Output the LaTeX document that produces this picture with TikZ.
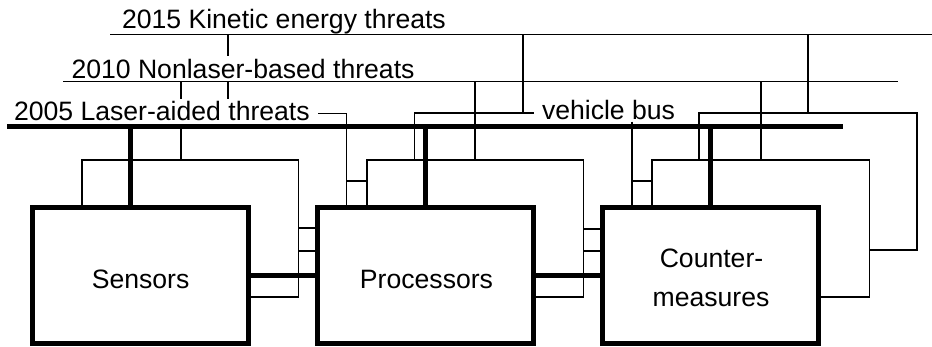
\documentclass[tikz,border=0pt]{standalone}
\usepackage{fontspec}
\setmainfont{Liberation Sans}
\begin{document}
\begin{tikzpicture}[x=1pt,y=-1pt,
  thinline/.style={line width=1.25pt},
  thickline/.style={line width=4.5pt},
  box/.style={draw, line width=4.6pt, minimum width=216pt, minimum height=136pt, inner sep=0pt, outer sep=0pt, fill=white},
  lbl/.style={inner sep=0pt, outer sep=0pt, font=\fontsize{26.6}{30}\selectfont}]
\useasboundingbox (0,0) rectangle (932,346);

% threat labels
\node[lbl, anchor=base west] (t15) at (122,28) {2015 Kinetic energy threats};
\node[lbl, anchor=base west] (t10) at (71.5,78.7) {2010 Nonlaser-based threats};
\node[lbl, anchor=base west] (t05) at (14,120.7) {2005 Laser-aided threats};
\node[lbl, anchor=base west] (vb) at (542,119.3) {vehicle bus};

% key coordinates
\coordinate (L15a) at (110,34.5);  \coordinate (L15b) at (932,34.5);
\coordinate (L10a) at (63,81.7);   \coordinate (L10b) at (898,81.7);
\coordinate (busL) at (7,126.3);   \coordinate (busR) at (843,126.3);

% year lines
\draw[thinline] (L15a) -- (L15b);
\draw[thinline] (L10a) -- (L10b);
\draw[thinline] (228,34.5) -- (228,56);
\draw[thinline] (228,81.7) -- (228,99.3);
\draw[thinline] (181,81.7) -- (181,99.3);
\draw[thinline] (181,126.3) -- (181,160);

% sensors frame
\draw[thinline] (82,207.5) -- (82,160) -- (298.3,160) -- (298.3,297) -- (248.5,297);
\draw[thinline] (298.3,228) -- (317.5,228);
\draw[thinline] (298.3,251) -- (317.5,251);

% 2005 leader to processors
\draw[thinline] (318,113.3) -- (346.7,113.3) -- (346.7,207.5);
\draw[thinline] (346.7,181) -- (367,181);

% processors frame
\draw[thinline] (367,207.5) -- (367,160) -- (583.3,160) -- (583.3,297) -- (533.5,297);
\draw[thinline] (583.3,229) -- (602.5,229);
\draw[thinline] (583.3,251) -- (602.5,251);
\draw[thinline] (475,81.7) -- (475,160);
\draw[thinline] (523,34.5) -- (523,113);
\draw[thinline] (414.3,160) -- (414.3,113) -- (534.3,113);

% countermeasures
\draw[thinline] (632,121.7) -- (632,207.5);
\draw[thinline] (632,181) -- (652,181);
\draw[thinline] (652,207.5) -- (652,160) -- (869.3,160) -- (869.3,297) -- (818.5,297);
\draw[thinline] (761,81.7) -- (761,160);
\draw[thinline] (808,34.5) -- (808,113);
\draw[thinline] (699,160) -- (699,113) -- (917,113) -- (917,250) -- (869.3,250);

% vehicle bus
\draw[thickline] (busL) -- (busR);

% boxes
\node[box] (sens) at (140.5,275.5) {};
\node[box] (proc) at (425.5,275.5) {};
\node[box] (cm) at (710.5,275.5) {};
\node[lbl, anchor=base] (sensL) at (140.6,288) {Sensors};
\node[lbl, anchor=base] (procL) at (426.5,288) {Processors};
\node[lbl, anchor=base] (cmL1) at (711.5,267) {Counter-};
\node[lbl, anchor=base] (cmL2) at (711,306) {measures};

% thick connections
\draw[thickline] (130.5,126.3) -- (130.5,207.5);
\draw[thickline] (busL -| proc.north) -- (proc.north);
\draw[thickline] (busL -| cm.north) -- (cm.north);
\draw[thickline] (sens.east) -- (proc.west);
\draw[thickline] (proc.east) -- (cm.west);
\end{tikzpicture}
\end{document}
